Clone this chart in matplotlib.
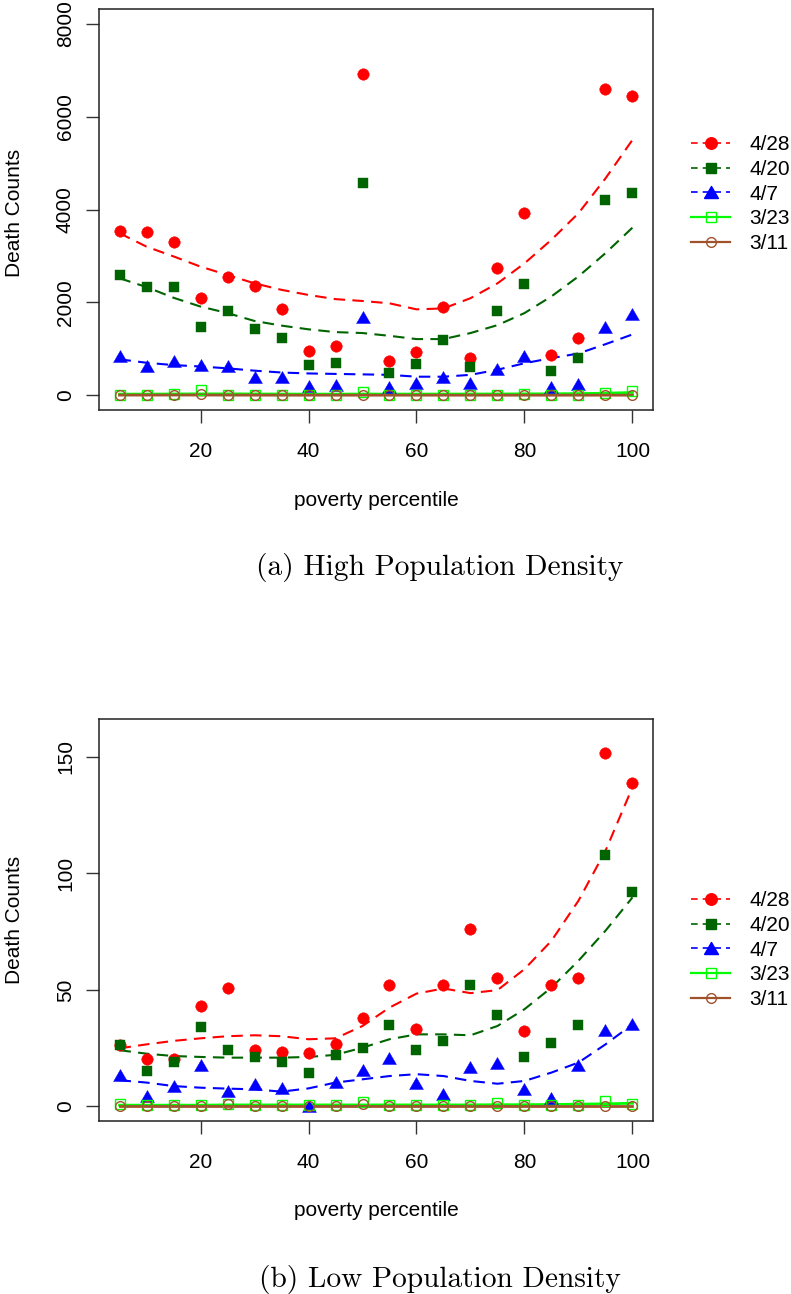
import matplotlib.pyplot as plt
from matplotlib.lines import Line2D

W, H = 791, 1294

pct = [5, 10, 15, 20, 25, 30, 35, 40, 45, 50, 55, 60, 65, 70, 75, 80, 85, 90, 95, 100]
dates = ["4/28", "4/20", "4/7", "3/23", "3/11"]

# (a) high population density: observed counts
hi_428 = [3540, 3525, 3310, 2090, 2540, 2355, 1860, 960, 1055, 6920, 740, 940, 1890, 800, 2750, 3935, 860, 1240, 6585, 6435]
hi_420 = [2590, 2335, 2335, 1480, 1815, 1435, 1230, 655, 695, 4565, 475, 675, 1200, 605, 1815, 2390, 525, 810, 4205, 4360]
hi_407 = [845, 630, 745, 660, 640, 400, 400, 200, 225, 1675, 185, 260, 400, 260, 565, 845, 185, 235, 1480, 1745]
hi_323 = [15, 5, 35, 120, 15, 5, 15, 5, 5, 70, 5, 15, 15, 15, 5, 35, 5, 5, 40, 85]
hi_311 = [0, 0, 5, 30, 0, 0, 0, 0, 0, 5, 0, 0, 0, 0, 0, 0, 0, 0, 0, 0]
# smoothed curves
hi_428_fit = [3490, 3200, 2990, 2770, 2590, 2410, 2270, 2160, 2070, 2030, 1980, 1850, 1870, 2090, 2410, 2840, 3350, 3920, 4670, 5500]
hi_420_fit = [2520, 2330, 2100, 1910, 1770, 1600, 1500, 1420, 1360, 1340, 1280, 1210, 1210, 1340, 1510, 1770, 2130, 2560, 3060, 3610]
hi_407_fit = [775, 700, 650, 620, 580, 530, 490, 470, 460, 450, 440, 400, 400, 440, 550, 690, 800, 900, 1100, 1310]
hi_323_fit = [25, 25, 28, 30, 30, 28, 26, 25, 25, 26, 26, 26, 26, 27, 28, 30, 32, 36, 45, 60]
hi_311_fit = [4, 4, 5, 5, 4, 3, 2, 2, 2, 2, 2, 2, 2, 2, 2, 2, 2, 2, 2, 2]

# (b) low population density: observed counts
lo_428 = [26.2, 20.2, 20.2, 43.1, 51.0, 24.2, 23.4, 23.1, 26.9, 38.1, 52.0, 33.4, 52.0, 76.1, 55.0, 32.2, 52.0, 55.0, 151.9, 138.8]
lo_420 = [26.2, 15.2, 19.2, 34.1, 24.2, 21.1, 19.2, 14.2, 22.1, 25.1, 35.0, 24.2, 28.2, 52.0, 39.1, 21.1, 27.1, 35.0, 107.9, 92.0]
lo_407 = [13.6, 4.4, 8.7, 17.8, 6.4, 9.5, 7.7, 0.2, 10.6, 15.6, 20.6, 9.9, 5.4, 16.9, 18.8, 7.6, 3.6, 17.8, 32.8, 35.5]
lo_323 = [0.8, 0.5, 0.5, 0.4, 1.1, 0.4, 0.4, 0.4, 0.4, 2.0, 0.4, 0.4, 0.4, 0.4, 1.5, 0.4, 0.5, 0.4, 2.3, 1.1]
lo_311 = [0.2, 0.2, 0.2, 0.2, 1.0, 0.2, 0.2, 0.2, 0.2, 1.0, 0.2, 0.2, 0.2, 0.2, 0.2, 0.2, 0.2, 0.2, 0.2, 0.2]
lo_428_fit = [24.9, 26.6, 28.1, 29.2, 30.1, 30.5, 30.1, 28.8, 29.2, 34.5, 42.4, 48.4, 50.6, 48.6, 49.9, 58.9, 71.1, 88.3, 109.7, 137.0]
lo_420_fit = [24.1, 22.6, 21.6, 21.2, 20.9, 20.9, 20.9, 21.2, 22.1, 25.2, 28.8, 30.9, 30.9, 30.5, 34.5, 41.7, 51.0, 62.5, 75.4, 89.7]
lo_407_fit = [11.2, 10.2, 8.7, 8.0, 7.6, 7.3, 6.3, 7.7, 10.2, 11.6, 13.0, 13.8, 13.0, 10.9, 9.7, 10.9, 14.5, 18.8, 26.6, 35.2]
lo_323_fit = [0.5, 0.5, 0.5, 0.5, 0.6, 0.6, 0.6, 0.6, 0.6, 0.6, 0.6, 0.6, 0.6, 0.6, 0.7, 0.7, 0.8, 0.9, 1.1, 1.3]
lo_311_fit = [0.3, 0.3, 0.3, 0.3, 0.3, 0.3, 0.3, 0.3, 0.3, 0.3, 0.3, 0.3, 0.3, 0.3, 0.3, 0.3, 0.3, 0.3, 0.3, 0.3]

# R-like equilateral triangle (pch 17)
TRI = [(-1, -0.866), (1, -0.866), (0, 0.866), (-1, -0.866)]

colors = ["#FF0000", "#006400", "#0000FF", "#00FF00", "#A0522D"]
markers = ["o", "s", TRI, "s", "o"]
msizes = [8.3, 7.0, 10.0, 7.0, 7.0]
filled = [True, True, True, False, False]
dashes = [(5.5, 3.5), (5.5, 3.5), (5.5, 3.5), None, None]

FS = 15
plt.rcParams["font.family"] = "Liberation Sans"


def px(x, y):
    return x / W, 1 - y / H


def add_axes(left, top, right, bottom):
    return fig.add_axes([left / W, 1 - bottom / H, (right - left) / W, (bottom - top) / H])


def draw_panel(ax, obs, fits, ylim, yticks):
    for i in range(5):
        face = colors[i] if filled[i] else "none"
        ax.plot(pct, obs[i], linestyle="none", marker=markers[i], ms=msizes[i],
                mfc=face, mec=colors[i], mew=1.0 if not filled[i] else 0.3, zorder=3)
        if dashes[i] is not None:
            ax.plot(pct, fits[i], color=colors[i], lw=1.5, dashes=dashes[i], zorder=2)
        else:
            ax.plot(pct, fits[i], color=colors[i], lw=2.0, zorder=2)
    ax.set_xlim(1.2, 103.8)
    ax.set_ylim(*ylim)
    ax.set_xticks([20, 40, 60, 80, 100])
    ax.set_yticks(yticks)
    ax.tick_params(length=9.3, width=1, labelsize=FS, color="#333333")
    ax.tick_params(axis="x", pad=13.5)
    ax.tick_params(axis="y", pad=8, labelrotation=90)
    for lbl in ax.get_yticklabels():
        lbl.set_va("center")
    for s in ax.spines.values():
        s.set_linewidth(1.1)
        s.set_color("#222222")


def legend_at(x, y):
    handles = []
    for i in range(5):
        face = colors[i] if filled[i] else "none"
        h = Line2D([], [], color=colors[i], marker=markers[i], ms=msizes[i], mfc=face,
                   mec=colors[i], lw=1.2 if dashes[i] else 1.6,
                   linestyle="--" if dashes[i] else "-")
        if dashes[i]:
            h.set_dashes((4, 3))
        handles.append(h)
    fig.legend(handles, dates, loc="upper left", bbox_to_anchor=px(x, y),
               frameon=False, fontsize=FS, handlelength=1.88, handletextpad=0.91,
               labelspacing=0.28, borderpad=0, borderaxespad=0, numpoints=1)


fig = plt.figure(figsize=(W / 100, H / 100), dpi=100)

ax1 = add_axes(99, 9, 653, 410)
draw_panel(ax1, [hi_428, hi_420, hi_407, hi_323, hi_311],
           [hi_428_fit, hi_420_fit, hi_407_fit, hi_323_fit, hi_311_fit],
           (-317, 8317), [0, 2000, 4000, 6000, 8000])
legend_at(691, 135)

ax2 = add_axes(99, 719, 653, 1121)
draw_panel(ax2, [lo_428, lo_420, lo_407, lo_323, lo_311],
           [lo_428_fit, lo_420_fit, lo_407_fit, lo_323_fit, lo_311_fit],
           (-6.3, 166.3), [0, 50, 100, 150])
legend_at(691, 891)

for yc, xl, cap, capy in [(213, 500, "(a) High Population Density", 567),
                          (920, 1210, "(b) Low Population Density", 1280)]:
    fig.text(*px(15, yc), "Death Counts", rotation=90, ha="center", va="center", fontsize=FS)
    fig.text(*px(376, xl), "poverty percentile", ha="center", va="center", fontsize=FS)
    fig.text(*px(440, capy), cap, ha="center", va="center", fontsize=21.2, family="cmr10")

fig.savefig("out.png", dpi=100)
